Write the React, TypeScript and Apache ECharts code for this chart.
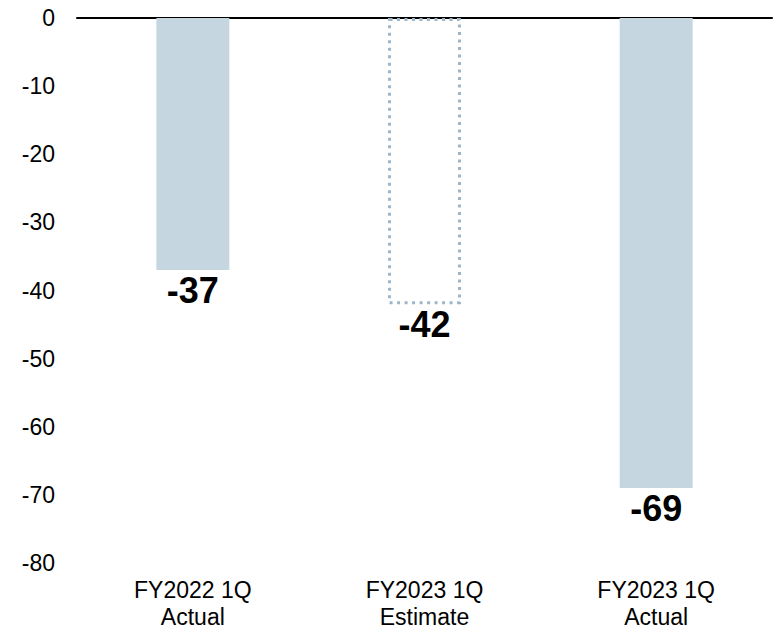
import React, { useEffect, useRef } from "react";
import * as echarts from "echarts";

const categories = ["FY2022 1Q\nActual", "FY2023 1Q\nEstimate", "FY2023 1Q\nActual"];
const values = [-37, -42, -69];
const isEstimate = [false, true, false];
const yMin = -80;
const yMax = 0;
const yInterval = 10;

export default function App() {
  const ref = useRef<HTMLDivElement>(null);
  useEffect(() => {
    if (!ref.current) return;
    const chart = echarts.init(ref.current, null, { renderer: "svg" });
    const font = "'Liberation Sans', Arial, sans-serif";
    chart.setOption({
      animation: false,
      backgroundColor: "#ffffff",
      grid: { left: 77, right: 4, top: 18, bottom: 67, containLabel: false },
      xAxis: [
        {
          type: "category",
          data: categories,
          position: "bottom",
          axisLine: { show: false, onZero: false },
          axisTick: { show: false },
          axisLabel: {
            color: "#000",
            fontFamily: font,
            fontSize: 23,
            lineHeight: 27,
            margin: 13,
            interval: 0,
          },
        },
        {
          type: "category",
          data: categories,
          position: "top",
          axisLine: { show: true, onZero: false, lineStyle: { color: "#000", width: 2 } },
          axisTick: { show: false },
          axisLabel: { show: false },
        },
      ],
      yAxis: {
        type: "value",
        min: yMin,
        max: yMax,
        interval: yInterval,
        axisLine: { show: false },
        axisTick: { show: false },
        splitLine: { show: false },
        axisLabel: { color: "#000", fontFamily: font, fontSize: 23, margin: 22 },
      },
      series: [
        {
          type: "bar",
          barWidth: "31.5%",
          data: values.map((v, i) =>
            isEstimate[i]
              ? {
                  value: v,
                  itemStyle: {
                    color: "rgba(255,255,255,0)",
                    borderColor: "#9db6ca",
                    borderWidth: 3,
                    borderType: [3, 4.5],
                  },
                }
              : { value: v, itemStyle: { color: "#c6d6e0" } }
          ),
          label: {
            show: true,
            position: "bottom",
            distance: 2,
            color: "#000",
            fontFamily: font,
            fontWeight: "bold",
            fontSize: 36,
          },
        },
      ],
    });
    return () => chart.dispose();
  }, []);
  return (
    <div
      ref={ref}
      style={{ width: 776, height: 630, position: "absolute", left: 0, top: 0 }}
    />
  );
}
